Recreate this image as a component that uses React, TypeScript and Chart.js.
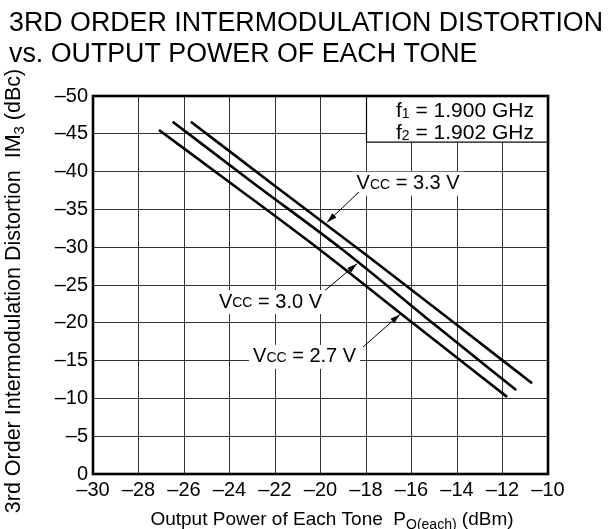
import React, { useEffect, useRef } from "react";
import { Chart, registerables } from "chart.js";

Chart.register(...registerables);

const FONT = '"Liberation Sans", Arial, Helvetica, sans-serif';

// ---- text ----
const titleLines = ["3RD ORDER INTERMODULATION DISTORTION", "vs. OUTPUT POWER OF EACH TONE"];
const xTitleParts = ["Output Power of Each Tone  P", "O(each)", " (dBm)"];
const yTitleParts = ["3rd Order Intermodulation Distortion  IM", "3", " (dBc)"];
const freqLabels = [
  ["f", "1", " = 1.900 GHz"],
  ["f", "2", " = 1.902 GHz"],
];
const seriesNames = ["2.7 V", "3.0 V", "3.3 V"];

// ---- axes ----
const xMin = -30;
const xMax = -10;
const xStep = 2;
const yMin = -50;
const yMax = 0;
const yStep = 5;

// ---- series: output power of each tone (dBm) vs IM3 (dBc) ----
const pout27 = [-27.1, -24, -20, -16, -11.8];
const im27 = [-45.5, -38.6, -29.6, -20.1, -10.2];
const pout30 = [-26.5, -23, -19, -15, -11.4];
const im30 = [-46.6, -38.6, -29.6, -19.8, -11.1];
const pout33 = [-25.7, -22, -18, -14, -10.7];
const im33 = [-46.6, -38.1, -29.0, -19.7, -12.0];

// ---- annotation placement (data coordinates) ----
const labelPos = [
  { cx: -20.7, cy: -15.5, ax: -18.13, ay: -16.8, bx: -16.51, by: -21.1 }, // 2.7 V
  { cx: -22.2, cy: -22.75, ax: -19.8, ay: -24.3, bx: -18.4, by: -27.8 }, // 3.0 V
  { cx: -16.15, cy: -38.4, ax: -18.31, ay: -37.3, bx: -19.71, by: -33.3 }, // 3.3 V
];
const freqBox = { x0: -18, x1: -10, y0: -50, y1: -43.9 };

const fmt = (v: number) => (v < 0 ? "\u2013" + Math.abs(v) : String(v));

function drawParts(
  ctx: CanvasRenderingContext2D,
  parts: string[],
  x: number,
  y: number,
  main: number,
  sub: number,
  subDy: number,
  measureOnly = false
) {
  let cx = x;
  parts.forEach((p, i) => {
    const isSub = i === 1;
    ctx.font = `${isSub ? sub : main}px ${FONT}`;
    if (!measureOnly) ctx.fillText(p, cx, y + (isSub ? subDy : 0));
    cx += ctx.measureText(p).width;
  });
  return cx - x;
}

const decorPlugin = {
  id: "decor",
  afterDraw(chart: any) {
    const ctx: CanvasRenderingContext2D = chart.ctx;
    const xs = chart.scales.x;
    const ys = chart.scales.y;
    const area = chart.chartArea;
    ctx.save();
    ctx.fillStyle = "#000";
    ctx.textBaseline = "alphabetic";
    ctx.textAlign = "left";

    // title
    ctx.font = `26.8px ${FONT}`;
    ctx.fillText(titleLines[0], 9, 31);
    ctx.fillText(titleLines[1], 9, 62);

    // frequency box
    const bx0 = xs.getPixelForValue(freqBox.x0);
    const bx1 = xs.getPixelForValue(freqBox.x1);
    const by0 = ys.getPixelForValue(freqBox.y0);
    const by1 = ys.getPixelForValue(freqBox.y1);
    ctx.fillStyle = "#fff";
    ctx.fillRect(bx0, by0, bx1 - bx0, by1 - by0);
    ctx.strokeStyle = "#000";
    ctx.lineWidth = 1.2;
    ctx.strokeRect(bx0 + 0.5, by0, bx1 - bx0, by1 - by0);
    ctx.fillStyle = "#000";
    ctx.textBaseline = "middle";
    drawParts(ctx, freqLabels[0], bx0 + 30, by0 + 15, 21, 14, 3);
    drawParts(ctx, freqLabels[1], bx0 + 30, by0 + 37, 21, 14, 3);

    // series labels with arrows
    labelPos.forEach((lp, i) => {
      const parts = ["V", "CC", " = " + seriesNames[i]];
      const w = drawParts(ctx, parts, 0, 0, 20, 14, 1, true);
      const cx = xs.getPixelForValue(lp.cx);
      const cy = ys.getPixelForValue(lp.cy);
      ctx.fillStyle = "#fff";
      ctx.fillRect(cx - w / 2 - 4, cy - 12, w + 8, 24);
      ctx.fillStyle = "#000";
      ctx.textBaseline = "middle";
      drawParts(ctx, parts, cx - w / 2, cy, 20, 14, 1);
      // arrow
      const ax = xs.getPixelForValue(lp.ax);
      const ay = ys.getPixelForValue(lp.ay);
      const tx = xs.getPixelForValue(lp.bx);
      const ty = ys.getPixelForValue(lp.by);
      ctx.strokeStyle = "#000";
      ctx.lineWidth = 1;
      ctx.beginPath();
      ctx.moveTo(ax, ay);
      ctx.lineTo(tx, ty);
      ctx.stroke();
      const ang = Math.atan2(ty - ay, tx - ax);
      const L = 10;
      const H = 3;
      ctx.beginPath();
      ctx.moveTo(tx, ty);
      ctx.lineTo(tx - L * Math.cos(ang) + H * Math.sin(ang), ty - L * Math.sin(ang) - H * Math.cos(ang));
      ctx.lineTo(tx - L * Math.cos(ang) - H * Math.sin(ang), ty - L * Math.sin(ang) + H * Math.cos(ang));
      ctx.closePath();
      ctx.fill();
    });

    // frame
    ctx.strokeStyle = "#000";
    ctx.lineWidth = 2.6;
    ctx.strokeRect(area.left, area.top, area.right - area.left, area.bottom - area.top);

    // x title
    ctx.textBaseline = "alphabetic";
    const xw = drawParts(ctx, xTitleParts, 0, 0, 19, 14, 4, true);
    drawParts(ctx, xTitleParts, 332 - xw / 2, 525, 19, 14, 4);

    // y title
    ctx.save();
    ctx.translate(20, 291);
    ctx.rotate(-Math.PI / 2);
    const yw = drawParts(ctx, yTitleParts, 0, 0, 21.5, 15, 4, true);
    drawParts(ctx, yTitleParts, -yw / 2, 0, 21.5, 15, 4);
    ctx.restore();

    ctx.restore();
  },
};

export default function App() {
  const ref = useRef<HTMLCanvasElement>(null);

  useEffect(() => {
    if (!ref.current) return;
    const mk = (xs: number[], ys: number[]) => xs.map((x, i) => ({ x, y: ys[i] }));
    const lineStyle = {
      borderColor: "#000",
      borderWidth: 2.6,
      pointRadius: 0,
      fill: false,
      tension: 0.3,
      cubicInterpolationMode: "monotone" as const,
    };
    const chart = new Chart(ref.current, {
      type: "line",
      data: {
        datasets: [
          { label: "Vcc = 2.7 V", data: mk(pout27, im27), ...lineStyle },
          { label: "Vcc = 3.0 V", data: mk(pout30, im30), ...lineStyle },
          { label: "Vcc = 3.3 V", data: mk(pout33, im33), ...lineStyle },
        ],
      },
      options: {
        animation: false,
        responsive: false,
        devicePixelRatio: 1,
        layout: { padding: { left: 8, right: 65, top: 96, bottom: 0 } },
        plugins: { legend: { display: false }, tooltip: { enabled: false } },
        scales: {
          x: {
            type: "linear",
            min: xMin,
            max: xMax,
            afterFit: (s: any) => {
              s.height = 55;
            },
            ticks: {
              stepSize: xStep,
              color: "#000",
              font: { family: FONT, size: 20 },
              padding: 4,
              maxRotation: 0,
              autoSkip: false,
              callback: (v: any) => fmt(Number(v)),
            },
            grid: { color: "#333", lineWidth: 1, drawTicks: false },
            border: { display: false },
          },
          y: {
            type: "linear",
            min: yMin,
            max: yMax,
            reverse: true,
            afterFit: (s: any) => {
              s.width = 85;
            },
            ticks: {
              stepSize: yStep,
              color: "#000",
              font: { family: FONT, size: 20 },
              padding: 5,
              autoSkip: false,
              callback: (v: any) => fmt(Number(v)),
            },
            grid: { color: "#333", lineWidth: 1, drawTicks: false },
            border: { display: false },
          },
        },
      },
      plugins: [decorPlugin],
    });
    return () => chart.destroy();
  }, []);

  return (
    <div style={{ position: "absolute", left: 0, top: 0, width: 613, height: 529, background: "#fff" }}>
      <canvas ref={ref} width={613} height={529} style={{ width: 613, height: 529, display: "block" }} />
    </div>
  );
}
